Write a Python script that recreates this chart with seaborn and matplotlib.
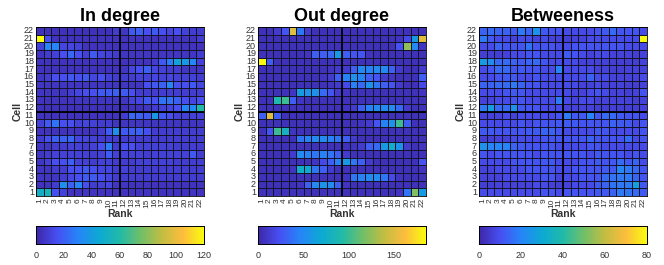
import numpy as np
import pandas as pd
import matplotlib
matplotlib.use('Agg')
import matplotlib.pyplot as plt
from matplotlib.colors import LinearSegmentedColormap
import seaborn as sns

# ============================================================
# Data (rows listed top -> bottom, i.e. Cell 22 ... Cell 1)
# ============================================================
CELLS = list(range(22, 0, -1))
RANKS = list(range(1, 23))

in_degree = [
    [4, 4, 4, 4, 4, 4, 4, 4, 4, 4, 8, 6, 18, 20, 15, 18, 15, 12, 15, 10, 8, 8],
    [120, 15, 5, 5, 5, 5, 5, 5, 5, 5, 5, 5, 5, 5, 5, 5, 5, 5, 5, 5, 5, 8],
    [10, 30, 30, 12, 12, 10, 5, 5, 5, 5, 5, 5, 5, 5, 5, 5, 5, 5, 5, 5, 5, 5],
    [5, 8, 10, 15, 22, 15, 10, 18, 12, 10, 8, 6, 6, 6, 6, 6, 6, 6, 6, 6, 6, 8],
    [5, 5, 5, 5, 5, 5, 5, 5, 5, 5, 5, 5, 5, 5, 5, 8, 18, 28, 42, 38, 30, 10],
    [5, 5, 5, 5, 5, 5, 5, 5, 5, 5, 5, 6, 12, 15, 20, 12, 10, 8, 8, 6, 6, 6],
    [6, 8, 15, 15, 18, 15, 18, 12, 15, 10, 8, 8, 8, 10, 10, 12, 10, 12, 10, 10, 10, 8],
    [6, 6, 6, 6, 6, 6, 6, 6, 6, 6, 6, 6, 6, 6, 15, 18, 20, 30, 15, 15, 18, 12],
    [6, 6, 6, 6, 8, 12, 15, 15, 18, 18, 20, 18, 15, 8, 8, 8, 8, 8, 8, 8, 8, 8],
    [5, 5, 5, 5, 5, 6, 6, 6, 6, 6, 6, 6, 10, 12, 18, 15, 25, 25, 20, 15, 12, 15],
    [4, 4, 4, 4, 4, 4, 4, 4, 4, 4, 4, 4, 4, 4, 6, 8, 10, 12, 15, 30, 32, 60],
    [5, 5, 5, 5, 5, 5, 5, 5, 5, 5, 5, 8, 22, 20, 18, 38, 18, 15, 10, 10, 10, 10],
    [10, 18, 25, 15, 15, 10, 12, 10, 8, 8, 6, 6, 6, 6, 6, 6, 6, 6, 6, 6, 6, 6],
    [5, 5, 5, 5, 5, 5, 5, 5, 8, 18, 35, 18, 20, 20, 15, 8, 8, 8, 8, 8, 8, 8],
    [8, 15, 20, 20, 22, 12, 12, 10, 8, 8, 8, 8, 8, 8, 8, 8, 8, 8, 8, 8, 8, 8],
    [6, 6, 8, 8, 10, 10, 8, 10, 15, 28, 8, 15, 15, 10, 10, 10, 10, 10, 8, 8, 8, 8],
    [6, 8, 10, 10, 10, 10, 10, 8, 10, 18, 10, 10, 10, 10, 8, 10, 10, 10, 10, 10, 18, 8],
    [6, 10, 15, 15, 20, 10, 10, 8, 10, 10, 8, 8, 8, 10, 10, 10, 10, 10, 8, 8, 8, 8],
    [6, 6, 8, 8, 15, 15, 18, 15, 12, 12, 8, 10, 8, 8, 8, 8, 8, 8, 8, 8, 8, 8],
    [6, 6, 6, 8, 12, 15, 18, 18, 15, 12, 8, 8, 8, 8, 8, 8, 8, 8, 8, 8, 8, 8],
    [5, 5, 8, 35, 20, 30, 15, 8, 10, 12, 6, 6, 5, 5, 5, 5, 5, 5, 5, 5, 5, 5],
    [50, 55, 15, 10, 5, 5, 6, 5, 5, 5, 5, 5, 5, 5, 5, 5, 5, 5, 5, 5, 5, 5],
]

out_degree = [
    [6, 6, 12, 25, 150, 40, 12, 6, 6, 6, 6, 6, 6, 6, 6, 6, 6, 6, 6, 6, 6, 6],
    [6, 6, 6, 6, 6, 6, 6, 6, 6, 6, 6, 6, 6, 6, 6, 6, 6, 6, 8, 20, 60, 150],
    [6, 6, 6, 6, 6, 6, 6, 6, 6, 6, 6, 6, 6, 6, 6, 6, 6, 6, 25, 125, 50, 8],
    [6, 6, 6, 6, 6, 6, 8, 30, 30, 35, 60, 30, 25, 25, 8, 6, 6, 6, 6, 6, 6, 6],
    [185, 30, 6, 6, 6, 6, 6, 6, 6, 6, 6, 6, 6, 6, 6, 6, 6, 6, 6, 6, 6, 6],
    [6, 6, 6, 6, 6, 6, 6, 6, 6, 8, 12, 12, 30, 50, 45, 50, 50, 30, 12, 6, 6, 12],
    [6, 6, 6, 6, 6, 6, 6, 6, 8, 12, 30, 45, 55, 45, 30, 25, 12, 8, 6, 6, 6, 30],
    [6, 6, 6, 6, 6, 6, 6, 6, 6, 8, 12, 20, 45, 35, 55, 40, 30, 25, 12, 6, 6, 20],
    [6, 6, 6, 6, 8, 60, 55, 55, 35, 25, 12, 8, 6, 6, 6, 6, 6, 6, 6, 6, 6, 8],
    [6, 6, 90, 100, 30, 8, 6, 6, 6, 6, 6, 6, 6, 6, 6, 6, 6, 6, 6, 6, 6, 6],
    [6, 6, 6, 6, 6, 6, 6, 6, 6, 6, 6, 8, 12, 30, 45, 50, 50, 50, 35, 12, 6, 6],
    [30, 150, 30, 6, 6, 6, 6, 6, 6, 6, 6, 6, 6, 6, 6, 6, 6, 6, 6, 6, 6, 6],
    [6, 6, 6, 6, 6, 6, 6, 6, 6, 6, 6, 6, 6, 8, 12, 25, 45, 55, 100, 30, 6, 6],
    [6, 25, 100, 80, 8, 6, 6, 6, 6, 6, 6, 6, 6, 6, 6, 6, 6, 6, 6, 6, 6, 6],
    [6, 6, 6, 6, 6, 40, 45, 50, 50, 45, 40, 30, 12, 6, 6, 6, 6, 6, 6, 6, 6, 6],
    [6, 6, 6, 6, 6, 6, 6, 6, 6, 6, 6, 6, 8, 12, 30, 35, 60, 75, 55, 12, 6, 8],
    [6, 6, 6, 6, 12, 50, 45, 40, 45, 40, 30, 12, 6, 6, 6, 6, 6, 6, 6, 6, 6, 6],
    [6, 6, 6, 6, 6, 6, 6, 8, 20, 30, 45, 60, 40, 30, 12, 6, 6, 6, 6, 6, 6, 25],
    [6, 6, 6, 6, 8, 75, 70, 40, 30, 12, 6, 6, 6, 6, 6, 6, 6, 6, 6, 6, 6, 8],
    [6, 6, 6, 6, 6, 6, 6, 6, 6, 6, 6, 8, 40, 45, 50, 50, 40, 20, 8, 6, 6, 6],
    [6, 6, 6, 6, 6, 8, 30, 50, 55, 50, 30, 8, 6, 6, 6, 6, 6, 6, 6, 6, 6, 6],
    [6, 6, 6, 6, 6, 6, 6, 6, 6, 6, 6, 6, 6, 6, 6, 6, 6, 6, 8, 40, 120, 60],
]

betweeness = [
    [14, 15, 14, 14, 12, 18, 14, 24, 12, 11, 11, 9, 9, 9, 9, 11, 12, 15, 11, 11, 11, 9],
    [18, 12, 9, 9, 7, 9, 9, 7, 9, 7, 7, 6, 7, 7, 9, 9, 9, 9, 9, 9, 9, 80],
    [9, 9, 14, 11, 11, 11, 17, 11, 11, 11, 9, 9, 11, 11, 11, 11, 11, 11, 11, 9, 9, 9],
    [6, 6, 6, 7, 9, 9, 11, 11, 9, 9, 9, 12, 11, 9, 7, 9, 9, 7, 7, 7, 6, 7],
    [26, 22, 15, 15, 14, 12, 14, 15, 11, 9, 9, 9, 9, 7, 7, 7, 7, 6, 6, 6, 6, 7],
    [9, 11, 15, 15, 11, 12, 11, 11, 9, 9, 20, 9, 9, 9, 9, 7, 7, 6, 6, 7, 7, 7],
    [9, 9, 11, 12, 12, 9, 9, 11, 9, 9, 9, 9, 9, 9, 14, 9, 9, 7, 7, 7, 7, 9],
    [14, 14, 15, 15, 18, 14, 11, 11, 9, 9, 9, 9, 9, 7, 7, 9, 7, 7, 7, 6, 6, 7],
    [9, 9, 9, 11, 12, 11, 9, 9, 9, 9, 9, 9, 7, 7, 9, 11, 9, 7, 7, 6, 7, 11],
    [7, 7, 9, 9, 11, 11, 9, 9, 9, 9, 18, 9, 7, 9, 9, 7, 7, 7, 7, 7, 6, 7],
    [18, 26, 15, 15, 24, 12, 11, 11, 9, 9, 9, 7, 7, 7, 7, 6, 6, 6, 6, 6, 6, 7],
    [7, 7, 7, 9, 7, 9, 9, 9, 9, 9, 11, 18, 12, 12, 20, 11, 15, 15, 12, 11, 11, 9],
    [9, 9, 9, 9, 9, 11, 9, 11, 11, 11, 12, 12, 12, 11, 11, 11, 11, 14, 12, 12, 9, 11],
    [12, 12, 11, 11, 11, 11, 12, 12, 14, 14, 11, 9, 9, 9, 9, 12, 11, 9, 9, 9, 9, 11],
    [6, 6, 7, 7, 9, 9, 9, 9, 11, 11, 11, 11, 11, 11, 14, 11, 11, 11, 11, 15, 9, 11],
    [24, 20, 20, 20, 14, 12, 11, 11, 11, 11, 9, 9, 9, 9, 11, 11, 9, 9, 9, 9, 9, 9],
    [11, 9, 11, 11, 11, 11, 11, 9, 11, 11, 11, 11, 11, 11, 9, 12, 11, 11, 11, 9, 11, 9],
    [9, 9, 9, 9, 11, 11, 11, 11, 12, 12, 9, 9, 9, 11, 11, 12, 11, 12, 15, 12, 14, 9],
    [7, 7, 9, 9, 9, 9, 11, 11, 11, 11, 9, 9, 11, 11, 11, 11, 12, 12, 20, 18, 15, 11],
    [7, 7, 7, 9, 9, 9, 9, 9, 11, 11, 7, 9, 9, 11, 11, 11, 15, 17, 18, 18, 14, 11],
    [6, 6, 7, 7, 7, 7, 7, 9, 9, 7, 6, 7, 9, 9, 9, 12, 14, 17, 18, 18, 28, 12],
    [9, 9, 9, 9, 9, 9, 9, 9, 11, 11, 9, 11, 11, 11, 11, 12, 12, 14, 18, 17, 15, 12],
]

TITLES = ['In degree', 'Out degree', 'Betweeness']
VMAX = [120, 185, 80]
CBAR_TICKS = [[0, 20, 40, 60, 80, 100, 120], [0, 50, 100, 150], [0, 20, 40, 60, 80]]

# ============================================================
# Parula-like colormap
# ============================================================
parula = LinearSegmentedColormap.from_list('parula', [
    (0.000, (0.2422, 0.1504, 0.6603)),
    (0.125, (0.2780, 0.3100, 0.9500)),
    (0.250, (0.1500, 0.5200, 0.9700)),
    (0.375, (0.0500, 0.6600, 0.8300)),
    (0.500, (0.1300, 0.7300, 0.6600)),
    (0.625, (0.4400, 0.7500, 0.4100)),
    (0.750, (0.7600, 0.7400, 0.2600)),
    (0.875, (0.9900, 0.7400, 0.2400)),
    (1.000, (0.9763, 0.9831, 0.0538)),
])

sns.set_style('white')
plt.rcParams['font.family'] = ['Liberation Sans', 'DejaVu Sans']

W, H = 664, 265
fig = plt.figure(figsize=(W / 100, H / 100), dpi=100)

lefts = [36, 258, 479]
for i, (mat, title) in enumerate(zip([in_degree, out_degree, betweeness], TITLES)):
    df = pd.DataFrame(mat, index=CELLS, columns=RANKS)
    x0 = lefts[i]
    ax = fig.add_axes([x0 / W, 1 - 196 / H, 168 / W, 169 / H])
    cax = fig.add_axes([x0 / W, 1 - 244 / H, 168 / W, 18 / H])
    sns.heatmap(df, ax=ax, cmap=parula, vmin=0, vmax=VMAX[i],
                linewidths=0.5, linecolor='#15152a', square=False,
                cbar=True, cbar_ax=cax,
                cbar_kws={'orientation': 'horizontal', 'ticks': CBAR_TICKS[i]})
    # block separators
    ax.axvline(11, color='black', lw=1.3)
    ax.axhline(11, color='black', lw=1.3)
    for s in ax.spines.values():
        s.set_visible(True)
        s.set_color('black')
        s.set_linewidth(0.6)
    ax.set_title(title, fontsize=13, fontweight='bold', pad=4, color='black')
    ax.set_xlabel('Rank', fontsize=7.5, fontweight='bold', labelpad=1, color='#333333')
    ax.set_ylabel('Cell', fontsize=7.5, fontweight='bold', labelpad=1, color='#333333')
    ax.set_xticks(np.arange(22) + 0.5)
    ax.set_xticklabels(RANKS, rotation=90, fontsize=6, color='#333333')
    ax.set_yticks(np.arange(22) + 0.5)
    ax.set_yticklabels(CELLS, rotation=0, fontsize=6.5, color='#333333')
    ax.tick_params(length=0, pad=1.5)

    cax.tick_params(labelsize=6.5, length=2, direction='in', colors='#333333', pad=5)
    cax.xaxis.set_ticks_position('bottom')
    for s in cax.spines.values():
        s.set_visible(True)
        s.set_color('black')
        s.set_linewidth(0.6)

fig.savefig('out.png', dpi=100)
